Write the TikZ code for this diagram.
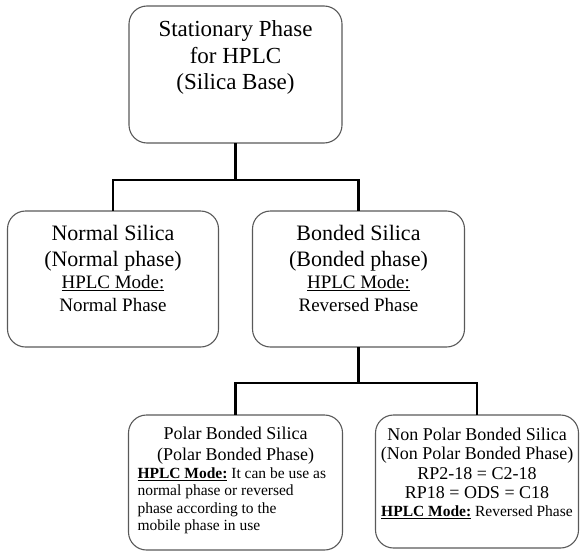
\documentclass[tikz,border=0pt]{standalone}
\usepackage{fontspec}
\setmainfont{Liberation Serif}
\usetikzlibrary{positioning}
\newcommand{\boxtext}[4]{\parbox[c][#2][t]{#1}{\centering\vspace*{#3}#4}}
\newcommand{\hplcmode}{\underline{HPLC Mode:}}
\newcommand{\hplcbold}{\underline{\textbf{HPLC Mode:}}}

\begin{document}
\begin{tikzpicture}[node distance=68pt and 34pt, box/.style={draw=black!65,line width=1.1pt,rounded corners=18pt,inner sep=0pt,outer sep=0pt}, link/.style={line width=2.6pt}]
\useasboundingbox (0,0) rectangle (580pt,-551pt);
\node[box] (base) at (235.5pt,-74.5pt) {\boxtext{213pt}{137pt}{15pt}{\fontsize{23}{26.5}\selectfont Stationary Phase\\for HPLC\\(Silica Base)}};
\node[box,below left=68pt and 17pt of base.south] (normal) {\boxtext{211pt}{136pt}{14pt}{{\fontsize{22}{26}\selectfont Normal Silica\\(Normal phase)\par}{\fontsize{19}{22.5}\selectfont \hplcmode\\Normal Phase\par}}};
\node[box,below right=68pt and 17pt of base.south] (bonded) {\boxtext{212pt}{136pt}{14pt}{{\fontsize{22}{26}\selectfont Bonded Silica\\(Bonded phase)\par}{\fontsize{19}{22.5}\selectfont \hplcmode\\Reversed Phase\par}}};
\node[box,below left=68pt and 16pt of bonded.south] (polar) {\boxtext{214pt}{135pt}{12pt}{{\fontsize{18}{21.5}\selectfont Polar Bonded Silica\\(Polar Bonded Phase)\par}{\fontsize{15.5}{17.5}\selectfont\raggedright\leftskip=9pt \hplcbold{} It can be use as\\normal phase or reversed\\phase according to the\\mobile phase in use\par}}};
\node[box,below right=68pt and 17pt of bonded.south] (nonpolar) {\boxtext{203pt}{133pt}{13pt}{{\fontsize{18}{19.5}\selectfont Non Polar Bonded Silica\\(Non Polar Bonded Phase)\\RP2-18 = C2-18\\RP18 = ODS = C18\par}{\fontsize{15.5}{17.5}\selectfont \hplcbold{} Reversed Phase\par}}};
\draw[link] (base.south) -- ++(0,-37pt) -| (normal.north);
\draw[link] (base.south) -- ++(0,-37pt) -| (bonded.north);
\draw[link] (bonded.south) -- ++(0,-36pt) -| (polar.north);
\draw[link] (bonded.south) -- ++(0,-36pt) -| (nonpolar.north);
\end{tikzpicture}
\end{document}
